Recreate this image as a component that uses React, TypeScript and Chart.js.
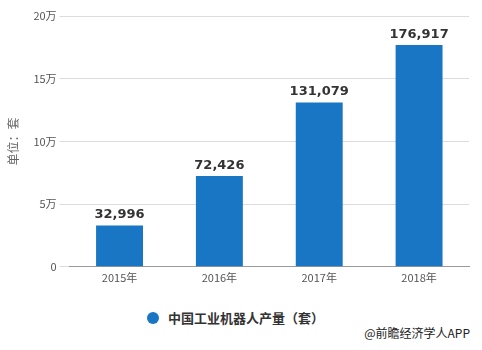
import React, { useEffect, useRef } from "react";
import { Chart, registerables } from "chart.js";

Chart.register(...registerables);

const categories = ["2015年", "2016年", "2017年", "2018年"];
const values = [32996, 72426, 131079, 176917];
const seriesName = "中国工业机器人产量（套）";
const yTitle = "单位：套";
const yTicks = [0, 50000, 100000, 150000, 200000];
const yTickLabels = ["0", "5万", "10万", "15万", "20万"];
const footer = "@前瞻经济学人APP";

const BAR = "#1976c4";

const labelPlugin = {
  id: "valueLabels",
  afterDatasetsDraw(chart: any) {
    const ctx = chart.ctx;
    const meta = chart.getDatasetMeta(0);
    ctx.save();
    ctx.font = "bold 13px 'DejaVu Sans', sans-serif";
    ctx.fillStyle = "#333";
    ctx.textAlign = "center";
    ctx.textBaseline = "bottom";
    meta.data.forEach((el: any, i: number) => {
      ctx.fillText(values[i].toLocaleString("en-US"), el.x, el.y - 4);
    });
    ctx.restore();
  },
};

export default function App() {
  const ref = useRef<HTMLCanvasElement>(null);
  useEffect(() => {
    if (!ref.current) return;
    const chart = new Chart(ref.current, {
      type: "bar",
      data: {
        labels: categories,
        datasets: [
          {
            label: seriesName,
            data: values,
            backgroundColor: BAR,
            barPercentage: 0.47,
            categoryPercentage: 1,
          },
        ],
      },
      options: {
        animation: false,
        responsive: false,
        maintainAspectRatio: false,
        layout: { padding: { left: 6, right: 13, top: 16, bottom: 0 } },
        plugins: { legend: { display: false }, tooltip: { enabled: false } },
        scales: {
          x: {
            grid: { display: false, drawTicks: false },
            border: { color: "#999", width: 1 },
            ticks: {
              color: "#555",
              font: { size: 11, family: "'Noto Sans CJK SC', sans-serif" },
              padding: 4,
            },
          },
          y: {
            min: 0,
            max: 200000,
            afterBuildTicks(scale: any) {
              scale.ticks = yTicks.map((v) => ({ value: v }));
            },
            grid: { color: "#dcdcdc", tickLength: 10, tickColor: "#dcdcdc" },
            border: { display: false },
            ticks: {
              color: "#555",
              padding: 3,
              font: { size: 11, family: "'Noto Sans CJK SC', sans-serif" },
              callback: (v: any) => yTickLabels[yTicks.indexOf(Number(v))],
            },
            title: {
              display: true,
              text: yTitle,
              color: "#666",
              font: { size: 12, family: "'Noto Sans CJK SC', sans-serif" },
              padding: { top: 0, bottom: 10 },
            },
          },
        },
      },
      plugins: [labelPlugin],
    });
    return () => chart.destroy();
  }, []);

  return (
    <div
      style={{
        position: "fixed",
        left: 0,
        top: 0,
        width: 482,
        height: 350,
        background: "#fff",
        fontFamily: "'Noto Sans CJK SC', sans-serif",
      }}
    >
      <canvas ref={ref} width={482} height={288} style={{ display: "block" }} />
      <div
        style={{
          position: "absolute",
          left: 147,
          top: 308,
          display: "flex",
          alignItems: "center",
          fontSize: 13,
          fontWeight: "bold",
          color: "#333",
        }}
      >
        <span
          style={{
            display: "inline-block",
            width: 12,
            height: 12,
            borderRadius: "50%",
            background: BAR,
            marginRight: 9,
          }}
        />
        {seriesName}
      </div>
      <div
        style={{
          position: "absolute",
          right: 12,
          top: 324,
          fontSize: 12,
          color: "#222",
        }}
      >
        {footer}
      </div>
    </div>
  );
}
